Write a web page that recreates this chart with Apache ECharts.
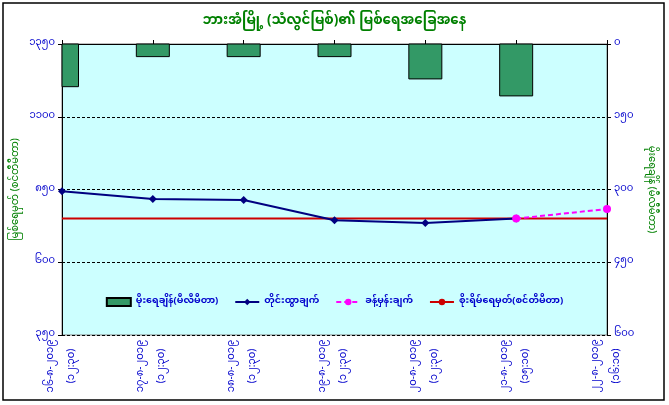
<!DOCTYPE html>
<html>
<head>
<meta charset="utf-8">
<script src="https://cdn.jsdelivr.net/npm/echarts@6/dist/echarts.min.js"></script>
<style>
    html, body { margin:0; padding:0; background:#fff; }
    #chart { width:669px; height:405px; }
</style>
</head>
<body>
<div id="chart"></div>
<script>
// categories (date + time of reading)
const dates = ['၁၆-၈-၂၀၁၉', '၁၇-၈-၂၀၁၉', '၁၈-၈-၂၀၁၉', '၁၉-၈-၂၀၁၉', '၂၀-၈-၂၀၁၉', '၂၁-၈-၂၀၁၉', '၂၂-၈-၂၀၁၉']
const times = ['(၁၂:၃၀)', '(၁၂:၃၀)', '(၁၂:၃၀)', '(၁၂:၃၀)', '(၁၂:၃၀)', '(၁၅:၁၀)', '(၁၆:၁၀)']

// series values
const rainfall = [88, 26, 26, 26, 72, 107, 0]          // mm, right axis
const observed = [844, 817, 814, 744, 735, 750, null]  // cm
const forecast = [null, null, null, null, null, 750, 783]
const dangerLevel = [750, 750, 750, 750, 750, 750, 750]

// axis ranges
const levelTicks = [350, 600, 850, 1100, 1350]
const rainTicks = [0, 150, 300, 450, 600]

const FONT = "'Noto Sans Myanmar', 'Padauk', 'Myanmar Text', 'Noto Sans', sans-serif"
const LABEL_BLUE = '#0000CC'
const TITLE_GREEN = '#008000'
const BAR_WIDTH = 33

const mmDigits = '၀၁၂၃၄၅၆၇၈၉'
const toMM = v => String(v).replace(/[0-9]/g, d => mmDigits[d])

const chart = echarts.init(document.getElementById('chart'))

// bars are centred on the tick (no boundary gap) and must be cut at the plot edge,
// the built in bar series does not clip that case, so draw them as custom rects
function renderRain(params, api){
    const top = api.coord([api.value(0), 0])
    const end = api.coord([api.value(0), api.value(1)])
    const rect = echarts.graphic.clipRectByRect({
        x: top[0] - BAR_WIDTH / 2,
        y: top[1],
        width: BAR_WIDTH,
        height: end[1] - top[1]
    }, {
        x: params.coordSys.x,
        y: params.coordSys.y,
        width: params.coordSys.width,
        height: params.coordSys.height
    })
    if( !rect || rect.height <= 0 ) return null
    return {
        type: 'rect',
        shape: rect,
        style: api.style({ fill: '#339966', stroke: '#000', lineWidth: 1 })
    }
}

chart.setOption({
    animation: false,
    textStyle: { fontFamily: FONT },
    title: {
        text: 'ဘားအံမြို့ (သံလွင်မြစ်)၏ မြစ်ရေအခြေအနေ',
        left: 'center',
        top: 11,
        textStyle: { color: TITLE_GREEN, fontSize: 13.5, fontWeight: 'bold', fontFamily: FONT }
    },
    legend: {
        left: 'center',
        top: 292,
        itemGap: 16,
        itemWidth: 24,
        itemHeight: 8,
        textStyle: { color: LABEL_BLUE, fontSize: 9.5, fontWeight: 'bold', fontFamily: FONT },
        data: [
            { name: 'မိုးရေချိန်(မီလီမီတာ)', icon: 'rect' },
            'တိုင်းထွာချက်',
            'ခန့်မှန်းချက်',
            'စိုးရိမ်ရေမှတ်(စင်တီမီတာ)'
        ]
    },
    grid: {
        left: 62, right: 62, top: 44, bottom: 70,
        show: true,
        backgroundColor: '#CCFFFF',
        borderColor: '#808080',
        borderWidth: 1
    },
    graphic: [{
        type: 'rect',
        shape: { x: 3, y: 3, width: 661, height: 397 },
        style: { fill: 'none', stroke: '#000', lineWidth: 1.5 },
        silent: true
    }],
    xAxis: {
        type: 'category',
        boundaryGap: false,
        data: dates.map((d, i) => d + '\n' + times[i]),
        axisLine: { lineStyle: { color: '#000', width: 1 } },
        axisTick: { inside: true, length: 4, lineStyle: { color: '#000' } },
        axisLabel: {
            rotate: 90, align: 'center', margin: 31,
            color: LABEL_BLUE, fontSize: 10, lineHeight: 21, fontFamily: FONT
        },
        splitLine: { show: false }
    },
    yAxis: [{
        type: 'value',
        min: levelTicks[0],
        max: levelTicks[levelTicks.length - 1],
        interval: levelTicks[1] - levelTicks[0],
        name: 'မြစ်ရေမှတ် (စင်တီမီတာ)',
        nameLocation: 'middle',
        nameRotate: 90,
        nameGap: 40,
        nameMoveOverlap: false,
        nameTextStyle: { color: TITLE_GREEN, fontSize: 10, fontFamily: FONT },
        axisLine: { show: true, lineStyle: { color: '#000' } },
        axisTick: { show: true, length: 4, lineStyle: { color: '#000' } },
        axisLabel: { color: LABEL_BLUE, fontSize: 10, margin: 7, formatter: v => toMM(v), fontFamily: FONT },
        splitLine: { show: true, lineStyle: { color: '#000', type: [3, 2], width: 1 } }
    }, {
        type: 'value',
        inverse: true,
        min: rainTicks[0],
        max: rainTicks[rainTicks.length - 1],
        interval: rainTicks[1] - rainTicks[0],
        name: 'မိုးရေချိန် (မီလီမီတာ)',
        nameLocation: 'middle',
        nameRotate: -90,
        nameGap: 38,
        nameMoveOverlap: false,
        nameTextStyle: { color: TITLE_GREEN, fontSize: 10, fontFamily: FONT },
        axisLine: { show: true, lineStyle: { color: '#000' } },
        axisTick: { show: true, length: 4, lineStyle: { color: '#000' } },
        axisLabel: { color: LABEL_BLUE, fontSize: 10, margin: 7, formatter: v => toMM(v), fontFamily: FONT },
        splitLine: { show: false }
    }],
    series: [{
        name: 'မိုးရေချိန်(မီလီမီတာ)',
        type: 'custom',
        yAxisIndex: 1,
        renderItem: renderRain,
        encode: { x: 0, y: 1 },
        data: rainfall.map((v, i) => [i, v]),
        itemStyle: { color: '#339966', borderColor: '#000', borderWidth: 1 },
        z: 2
    }, {
        name: 'စိုးရိမ်ရေမှတ်(စင်တီမီတာ)',
        type: 'line',
        data: dangerLevel,
        symbol: 'none',
        lineStyle: { color: '#CC0000', width: 2 },
        itemStyle: { color: '#CC0000' },
        z: 3
    }, {
        name: 'တိုင်းထွာချက်',
        type: 'line',
        data: observed,
        symbol: 'diamond',
        symbolSize: 8,
        lineStyle: { color: '#000080', width: 2 },
        itemStyle: { color: '#000080' },
        z: 4
    }, {
        name: 'ခန့်မှန်းချက်',
        type: 'line',
        data: forecast,
        symbol: 'circle',
        symbolSize: 8,
        lineStyle: { color: '#FF00FF', width: 2, type: [5, 3] },
        itemStyle: { color: '#FF00FF' },
        z: 5
    }]
})
</script>
</body>
</html>
